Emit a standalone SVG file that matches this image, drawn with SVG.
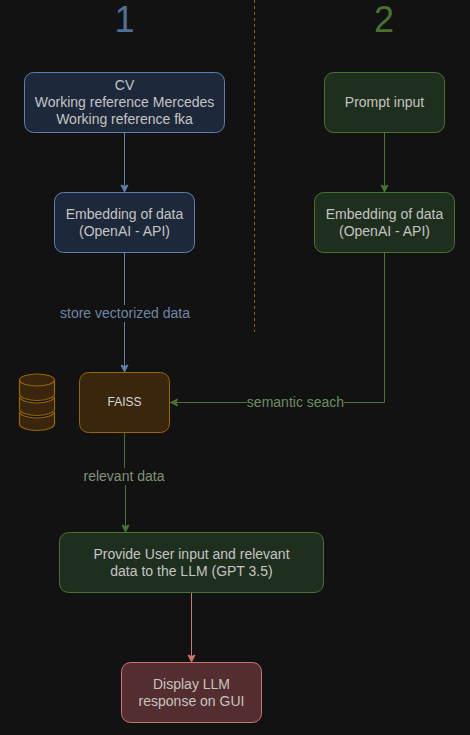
<svg xmlns="http://www.w3.org/2000/svg" width="470" height="735" viewBox="0 0 470 735">
<style>
text{font-family:"Liberation Sans",Arial,sans-serif;text-anchor:middle}
.t{font-size:14px;fill:#c4c4c4}
.b{fill:#1d293b;stroke:#5c7fad}
.g{fill:#1f2f1e;stroke:#46742f}
.o{fill:#3a250d;stroke:#996600}
.r{fill:#542e2e;stroke:#c97570}
.c{fill:none;stroke-width:1}
.l{font-size:14px}
</style>
<defs>
<marker id="ab" markerUnits="userSpaceOnUse" markerWidth="10" markerHeight="10" refX="8.500" refY="4.500" orient="auto"><path d="M1 1L8 4.500L1 8L2.500 4.500Z" fill="#5c7fad" stroke="#5c7fad"/></marker>
<marker id="ag" markerUnits="userSpaceOnUse" markerWidth="10" markerHeight="10" refX="8.500" refY="4.500" orient="auto"><path d="M1 1L8 4.500L1 8L2.500 4.500Z" fill="#46742f" stroke="#46742f"/></marker>
<marker id="ar" markerUnits="userSpaceOnUse" markerWidth="10" markerHeight="10" refX="8.500" refY="4.500" orient="auto"><path d="M1 1L8 4.500L1 8L2.500 4.500Z" fill="#c97570" stroke="#c97570"/></marker>
</defs>
<rect width="470" height="735" fill="#121212"/>
<text x="124.500" y="32" font-size="36" fill="#4f6f99">1</text>
<text x="384" y="32" font-size="36" fill="#46742f">2</text>
<path d="M254.500 0V332" stroke="#996600" stroke-dasharray="3 3" fill="none"/>
<g id="connectors" class="c">
<path d="M124.500 132.500V192.500" stroke="#5c7fad" fill="none" marker-end="url(#ab)"/>
<path d="M124.500 252.500V372.500" stroke="#5c7fad" fill="none" marker-end="url(#ab)"/>
<path d="M384.500 132.500V192.500" stroke="#46742f" fill="none" marker-end="url(#ag)"/>
<path d="M384.500 252.500V402.500H170" stroke="#46742f" fill="none" marker-end="url(#ag)"/>
<path d="M124.500 432.500V482.500H125.500V532.500" stroke="#46742f" fill="none" marker-end="url(#ag)"/>
<path d="M191.500 592.500V662.500" stroke="#c97570" fill="none" marker-end="url(#ar)"/>
</g>
<g id="edge-labels">
<rect x="58" y="305" width="133" height="17" fill="#121212"/>
<text class="l" x="125" y="318" fill="#6f86a8">store vectorized data</text>
<rect x="247" y="394" width="97" height="17" fill="#121212"/>
<text class="l" x="295.500" y="407" fill="#6b8f5d">semantic seach</text>
<rect x="82" y="468" width="84" height="17" fill="#121212"/>
<text class="l" x="124" y="481" fill="#7f9477">relevant data</text>
</g>
<g id="n-cv"><rect class="b" x="24.500" y="72.500" width="200" height="60" rx="9"/>
<text class="t" x="124.500" y="90">CV</text><text class="t" x="124.500" y="107">Working reference Mercedes</text><text class="t" x="124.500" y="124">Working reference fka</text></g>
<g id="n-emb1"><rect class="b" x="54.500" y="192.500" width="140" height="60" rx="9"/>
<text class="t" x="124.500" y="219">Embedding of data</text><text class="t" x="124.500" y="236">(OpenAI - API)</text></g>
<g id="n-prompt"><rect class="g" x="324.500" y="72.500" width="120" height="60" rx="9"/>
<text class="t" x="384.500" y="107">Prompt input</text></g>
<g id="n-emb2"><rect class="g" x="314.500" y="192.500" width="140" height="60" rx="9"/>
<text class="t" x="384.500" y="219">Embedding of data</text><text class="t" x="384.500" y="236">(OpenAI - API)</text></g>
<g id="n-faiss"><rect class="o" x="79.500" y="372.500" width="90" height="60" rx="9"/>
<text x="124.500" y="406" font-size="12" fill="#d8d8d8">FAISS</text></g>
<g id="n-db" fill="#3a250d" stroke="#996600" stroke-width="1.200">
<path d="M19.500 411.500C19.500 415 27 418 37 418S54.500 415 54.500 411.500V424C54.500 427.500 47 430.500 37 430.500S19.500 427.500 19.500 424Z"/>
<path d="M19.500 396.500C19.500 400 27 403 37 403S54.500 400 54.500 396.500V409C54.500 412.500 47 415.500 37 415.500S19.500 412.500 19.500 409Z"/>
<path d="M19.500 380V394C19.500 397.500 27 400.500 37 400.500S54.500 397.500 54.500 394V380Z"/>
<ellipse cx="37" cy="380" rx="17.500" ry="6"/>
</g>
<g id="n-llm"><rect class="g" x="59.500" y="532.500" width="264" height="60" rx="9"/>
<text class="t" x="191.500" y="559">Provide User input and relevant</text><text class="t" x="191.500" y="576">data to the LLM (GPT 3.5)</text></g>
<g id="n-display"><rect class="r" x="121.500" y="662.500" width="140" height="60" rx="9"/>
<text class="t" x="191.500" y="689">Display LLM</text><text class="t" x="191.500" y="706">response on GUI</text></g>
</svg>
